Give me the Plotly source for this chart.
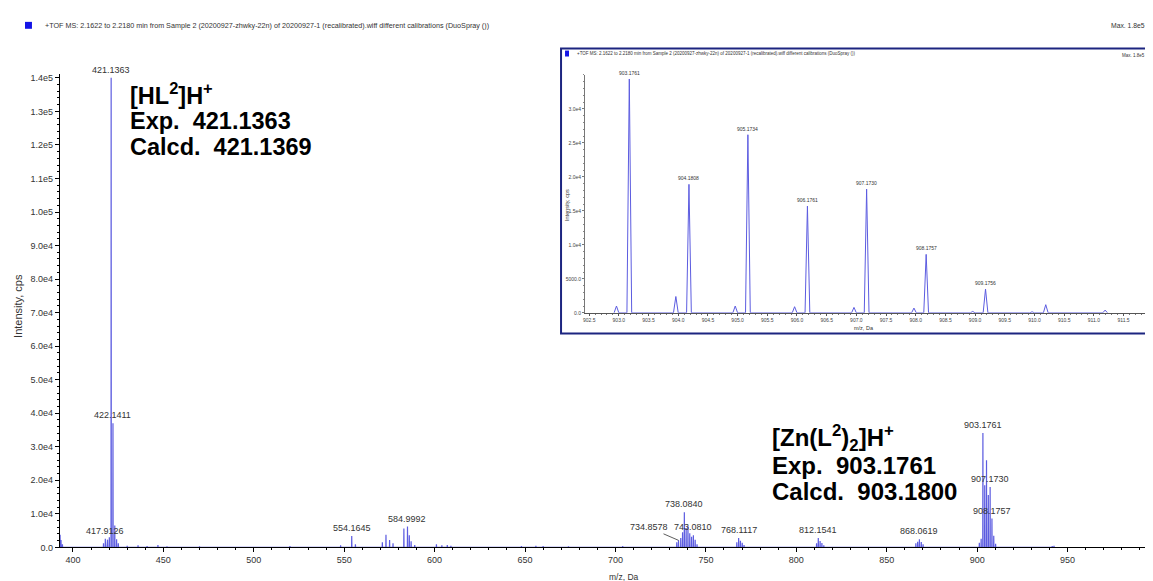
import plotly.graph_objects as go

W, H = 1153, 581
def px(x):
    return x / W
def py(y):
    return 1 - y / H

# ---------------- data ----------------
main_mz = [392.9, 393.4, 394.2, 416.9, 417.9126, 418.9, 419.13, 420.13, 421.1363, 422.1411,
           423.14, 424.15, 425.1, 430.0, 436.0, 441.0, 447.0, 452.0, 470.0, 520.0, 548.0,
           554.1645, 556.2, 571.1, 573.1, 575.1, 577.0, 583.0, 584.9992, 586.0, 587.0, 589.0,
           601.0, 604.0, 607.0, 609.0, 648.0, 656.0, 660.0, 674.0, 704.0,
           733.9, 734.8578, 736.1, 737.1, 738.0840, 739.08, 740.08, 741.08, 742.08, 743.0810,
           744.08, 745.1, 767.1, 768.1117, 769.1, 770.1, 771.1, 811.2, 812.1541, 813.15, 814.15,
           815.2, 866.1, 867.1, 868.0619, 869.1, 870.1, 901.2, 902.2, 903.1761, 904.1808,
           905.1734, 906.1761, 907.1730, 908.1757, 909.1756, 910.2, 941.5, 942.5]
main_int = [3800, 2200, 900, 1200, 2600, 1500, 2300, 3000, 140000, 37000,
            6500, 2400, 1200, 500, 600, 400, 700, 300, 300, 400, 600,
            3400, 900, 1500, 3800, 2200, 1200, 5600, 6200, 3600, 1800, 700,
            900, 600, 700, 500, 400, 500, 400, 300, 400,
            1500, 2100, 2800, 4500, 10500, 5800, 6300, 4200, 3200, 3600,
            2300, 900, 1500, 2800, 2000, 1400, 700, 1200, 2800, 1900, 1300,
            600, 1200, 1700, 2400, 1600, 900, 1400, 2600, 34100, 18500,
            26000, 15600, 18000, 8600, 3500, 1100, 400, 500]
main_label_mz = [421.1363, 422.1411, 417.9126, 554.1645, 584.9992, 738.0840, 743.0810,
                 768.1117, 812.1541, 868.0619, 903.1761, 907.1730, 908.1757]
main_leader_mz = 734.8578

inset_mz = [902.96, 903.1761, 903.96, 904.1808, 904.96, 905.1734, 905.96, 906.1761, 906.96,
            907.1730, 907.97, 908.1757, 908.96, 909.1756, 909.96, 910.19, 911.19]
inset_int = [1000, 34400, 2400, 18900, 1000, 26200, 900, 15700, 800,
             18200, 700, 8600, 200, 3500, 150, 1200, 400]
inset_label_mz = [903.1761, 904.1808, 905.1734, 906.1761, 907.1730, 908.1757, 909.1756]

main_xticks = [400, 450, 500, 550, 600, 650, 700, 750, 800, 850, 900, 950]
main_yticks = [0, 1e4, 2e4, 3e4, 4e4, 5e4, 6e4, 7e4, 8e4, 9e4, 1e5, 1.1e5, 1.2e5, 1.3e5, 1.4e5]
main_ytext = ["0.0", "1.0e4", "2.0e4", "3.0e4", "4.0e4", "5.0e4", "6.0e4", "7.0e4", "8.0e4",
              "9.0e4", "1.0e5", "1.1e5", "1.2e5", "1.3e5", "1.4e5"]
inset_xticks = [902.5, 903.0, 903.5, 904.0, 904.5, 905.0, 905.5, 906.0, 906.5, 907.0, 907.5,
                908.0, 908.5, 909.0, 909.5, 910.0, 910.5, 911.0, 911.5]
inset_yticks = [0, 5000, 10000, 15000, 20000, 25000, 30000]
inset_ytext = ["0.0", "5000.0", "1.0e4", "1.5e4", "2.0e4", "2.5e4", "3.0e4"]

header = ("+TOF MS: 2.1622 to 2.2180 min from Sample 2 (20200927-zhwky-22n) of 20200927-1 "
          "(recalibrated).wiff different calibrations (DuoSpray ())")
max_text = "Max. 1.8e5 cps."

# ---------------- helpers ----------------
def profile(mz, inten, w):
    xs, ys = [], []
    for m, h in sorted(zip(mz, inten)):
        xs += [m - w, m, m + w]
        ys += [0, h, 0]
    return xs, ys

SMALL = "Liberation Sans Narrow, Arial Narrow, Liberation Sans, sans-serif"
BIG = "Liberation Sans, Arial, sans-serif"
LINE = "#5c5ce0"

fig = go.Figure()
mx, my = profile(main_mz, main_int, 0.08)
fig.add_trace(go.Scatter(x=mx, y=my, mode="lines", line=dict(color=LINE, width=1.2),
                         hoverinfo="skip", xaxis="x", yaxis="y"))
ix, iy = profile(inset_mz, inset_int, 0.04)
fig.add_trace(go.Scatter(x=ix, y=iy, mode="lines", line=dict(color=LINE, width=1),
                         hoverinfo="skip", xaxis="x2", yaxis="y2"))

axis_common = dict(showgrid=False, zeroline=False, showline=True, ticks="outside")
fig.update_layout(
    width=W, height=H, margin=dict(l=0, r=0, t=0, b=0),
    paper_bgcolor="white", plot_bgcolor="rgba(0,0,0,0)", showlegend=False,
    xaxis=dict(axis_common, domain=[px(50), px(1150)], range=[392.8, 1000], anchor="y",
               tickvals=main_xticks, ticktext=[str(v) for v in main_xticks], ticklen=4,
               linecolor="black", tickcolor="black", linewidth=1,
               tickfont=dict(family=SMALL, size=9, color="#333"),
               minor=dict(dtick=10, ticklen=2, tickcolor="black", ticks="outside")),
    yaxis=dict(axis_common, domain=[py(544), py(65.5)], range=[0, 141200], anchor="x",
               tickvals=main_yticks, ticktext=main_ytext, ticklen=4,
               linecolor="black", tickcolor="black", linewidth=1,
               tickfont=dict(family=SMALL, size=9, color="#333"),
               minor=dict(dtick=2000, ticklen=2, tickcolor="black", ticks="outside")),
    xaxis2=dict(axis_common, domain=[px(576), px(1147)], range=[902.43, 912.03], anchor="y2",
                tickvals=inset_xticks, ticktext=[f"{v:.1f}" for v in inset_xticks], ticklen=2,
                linecolor="#555", tickcolor="#555", linewidth=1,
                tickfont=dict(family=SMALL, size=5, color="#444"),
                minor=dict(dtick=0.1, ticklen=1, tickcolor="#777", ticks="outside")),
    yaxis2=dict(axis_common, domain=[py(307), py(66.6)], range=[0, 35000], anchor="x2",
                tickvals=inset_yticks, ticktext=inset_ytext, ticklen=2,
                linecolor="#777", tickcolor="#777", linewidth=1,
                tickfont=dict(family=SMALL, size=5, color="#444"),
                minor=dict(dtick=1000, ticklen=1, tickcolor="#888", ticks="outside")),
)

shapes = [
    dict(type="rect", xref="paper", yref="paper", x0=px(552), x1=px(1151), y0=py(328), y1=py(40),
         line=dict(color="#1c2580", width=2), fillcolor="white", layer="below"),
    dict(type="rect", xref="paper", yref="paper", x0=px(15), x1=px(22), y0=py(20), y1=py(13),
         line=dict(width=0), fillcolor="#1414e6"),
    dict(type="rect", xref="paper", yref="paper", x0=px(556), x1=px(560), y0=py(48), y1=py(42),
         line=dict(width=0), fillcolor="#1414e6"),
]
fig.update_layout(shapes=shapes)

ann = []
def txt(x, y, text, size, family=SMALL, color="#333", xa="left", ya="middle", angle=0):
    ann.append(dict(xref="paper", yref="paper", x=px(x), y=py(y), text=text, showarrow=False,
                    xanchor=xa, yanchor=ya, textangle=angle,
                    font=dict(family=family, size=size, color=color)))

txt(33, 17, header, 7.2)
txt(1101, 17, max_text, 6.8)
txt(8, 300, "Intensity, cps", 11, xa="center", angle=-90)
txt(615, 574, "m/z, Da", 8.5, xa="center")

# inset texts
txt(566, 45, header, 4.5)
txt(1148, 47, max_text, 4.5, xa="right")
txt(558, 198, "Intensity, cps", 5.5, xa="center", angle=-90)
txt(855, 322, "m/z, Da", 5.5, xa="center")

# big labels
for yy, t in [(86, "[HL<sup>2</sup>]H<sup>+</sup>"), (113, "Exp.&nbsp; 421.1363"),
              (139, "Calcd.&nbsp; 421.1369")]:
    txt(118, yy, "<b>" + t + "</b>", 23.5, family=BIG, color="black")
for yy, t in [(433, "[Zn(L<sup>2</sup>)<sub>2</sub>]H<sup>+</sup>"), (461, "Exp.&nbsp; 903.1761"),
              (488, "Calcd.&nbsp; 903.1800")]:
    txt(761, yy, "<b>" + t + "</b>", 24, family=BIG, color="black")

lookup_main = dict(zip(main_mz, main_int))
for m in main_label_mz:
    ann.append(dict(xref="x", yref="y", x=m, y=lookup_main[m], text=f"{m:.4f}", showarrow=False,
                    xanchor="center", yanchor="bottom", yshift=1,
                    font=dict(family=SMALL, size=9, color="#333")))
ann.append(dict(xref="x", yref="y", x=main_leader_mz, y=lookup_main[main_leader_mz],
                text=f"{main_leader_mz:.4f}", showarrow=True, arrowhead=0, arrowwidth=0.8,
                arrowcolor="#333", ax=-30, ay=-13,
                font=dict(family=SMALL, size=9, color="#333")))

lookup_inset = dict(zip(inset_mz, inset_int))
for m in inset_label_mz:
    ann.append(dict(xref="x2", yref="y2", x=m, y=lookup_inset[m], text=f"{m:.4f}", showarrow=False,
                    xanchor="center", yanchor="bottom", yshift=1,
                    font=dict(family=SMALL, size=5, color="#333")))
fig.update_layout(annotations=ann)

fig.write_html("out.html")
